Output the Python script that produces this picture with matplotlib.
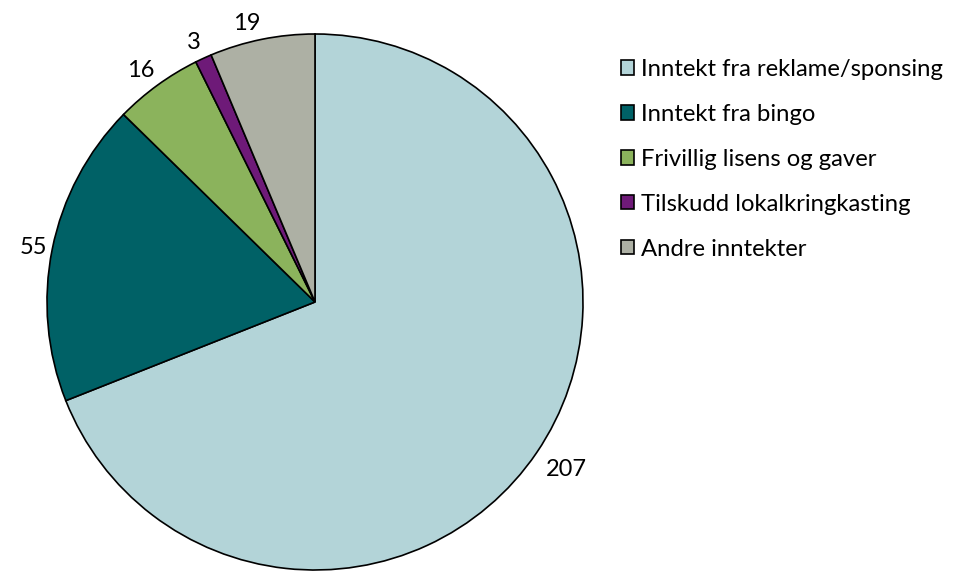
import matplotlib
matplotlib.use("Agg")
import numpy as np
import matplotlib.pyplot as plt
from matplotlib.patches import Patch

categories = ["Inntekt fra reklame/sponsing", "Inntekt fra bingo", "Frivillig lisens og gaver",
              "Tilskudd lokalkringkasting", "Andre inntekter"]
values = [207, 55, 16, 3, 19]
colors = ["#B3D4D8", "#006166", "#8BB35C", "#6E1A78", "#ADB0A4"]

plt.rcParams['font.family'] = ['Lato', 'DejaVu Sans']

W, H = 960, 571
fig = plt.figure(figsize=(W / 100, H / 100), dpi=100)
cx, cy, r = 315, 269, 268
ax = fig.add_axes([(cx - r) / W, (cy - r) / H, 2 * r / W, 2 * r / H])
wedges, texts = ax.pie(values, labels=[str(v) for v in values], colors=colors,
                       startangle=90, counterclock=False, labeldistance=1.1,
                       wedgeprops=dict(edgecolor="black", linewidth=1.2),
                       textprops=dict(fontsize=17, color="black"))
for w, t in zip(wedges, texts):
    ang = np.deg2rad((w.theta1 + w.theta2) / 2)
    c, s = np.cos(ang), np.sin(ang)
    d = 1.04 if s < 0 else 1.02
    t.set_position((d * c, d * s))
    t.set_ha("center" if abs(c) < 0.1 else ("left" if c > 0 else "right"))
    t.set_va("center" if abs(s) < 0.3 else ("bottom" if s > 0 else "top"))
ax.set_xlim(-1, 1)
ax.set_ylim(-1, 1)
ax.set_aspect("equal")
ax.axis("off")

handles = [Patch(facecolor=c, edgecolor="black", linewidth=1.2) for c in colors]
fig.legend(handles, categories, loc="upper left", bbox_to_anchor=(621 / W, 1 - 59 / H),
           frameon=False, fontsize=17.2, handlelength=0.55, handleheight=0.55,
           handletextpad=0.3, labelspacing=1.0, borderaxespad=0, borderpad=0)

fig.savefig("out.png", dpi=100)
